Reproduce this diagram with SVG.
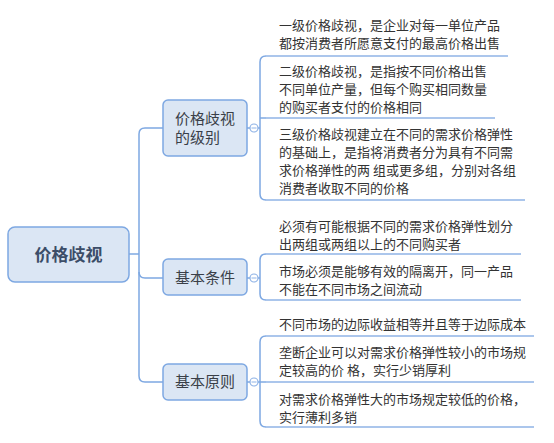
<svg xmlns="http://www.w3.org/2000/svg" width="554" height="443" viewBox="0 0 554 443">
<style>
.node{fill:#dbe6f4;stroke:#7ea8e2;stroke-width:1.5}
.ln{fill:none;stroke:#7ea8e2;stroke-width:1.5}
.ul{fill:none;stroke:#8fb3e6;stroke-width:1.5}
.t{font-family:"Noto Sans CJK SC","Noto Sans",sans-serif;font-size:13px;fill:#333}
.nt{font-family:"Noto Sans CJK SC","Noto Sans",sans-serif;font-size:15px;fill:#3a3f48}
.rt{font-family:"Noto Sans CJK SC","Noto Sans",sans-serif;font-size:17px;font-weight:bold;fill:#3b4d68}
.cc{fill:#fff;stroke:#8fb3e6;stroke-width:1.2}
</style>
<rect width="554" height="443" fill="#fff"/>
<g id="connectors">
<path class="ln" d="M129,254 H139"/>
<path class="ln" d="M163,128 H145 Q139,128 139,134 V376 Q139,382 145,382 H163"/>
<path class="ln" d="M139,272 Q139,278 145,278 H163"/>
<path class="ln" d="M247,128 H260"/>
<path class="ln" d="M247,278 H260"/>
<path class="ln" d="M247,382 H260"/>
<path class="ln" d="M266,56 Q260,56 260,62 V194 Q260,200 266,200"/>
<path class="ln" d="M260,118 H266"/>
<path class="ln" d="M266,254 Q260,254 260,260 V294 Q260,300 266,300"/>
<path class="ln" d="M266,336 Q260,336 260,342 V421 Q260,427 266,427"/>
<path class="ln" d="M260,382 H266"/>
</g>
<g id="root">
<rect class="node" x="8" y="227" width="121" height="55" rx="7"/>
<text class="rt" x="68.5" y="260.5" text-anchor="middle">价格歧视</text>
</g>
<g id="n1">
<rect class="node" x="163" y="100" width="84" height="56" rx="5"/>
<text class="nt" x="175" y="124">价格歧视</text>
<text class="nt" x="175" y="143">的级别</text>
<circle class="cc" cx="254" cy="128" r="4"/>
<path d="M251.5,128 H256.5" stroke="#8fb3e6" stroke-width="1"/>
</g>
<g id="n2">
<rect class="node" x="163" y="259" width="84" height="36" rx="5"/>
<text class="nt" x="205" y="283" text-anchor="middle">基本条件</text>
<circle class="cc" cx="254" cy="278" r="4"/>
<path d="M251.5,278 H256.5" stroke="#8fb3e6" stroke-width="1"/>
</g>
<g id="n3">
<rect class="node" x="163" y="364" width="84" height="36" rx="5"/>
<text class="nt" x="205" y="387" text-anchor="middle">基本原则</text>
<circle class="cc" cx="254" cy="382" r="4"/>
<path d="M251.5,382 H256.5" stroke="#8fb3e6" stroke-width="1"/>
</g>
<g id="c11">
<path class="ul" d="M266,56 H508"/>
<text class="t" x="279" y="30">一级价格歧视，是企业对每一单位产品</text>
<text class="t" x="279" y="48">都按消费者所愿意支付的最高价格出售</text>
</g>
<g id="c12">
<path class="ul" d="M266,118 H495"/>
<text class="t" x="279" y="76">二级价格歧视，是指按不同价格出售</text>
<text class="t" x="279" y="94">不同单位产量，但每个购买相同数量</text>
<text class="t" x="279" y="112">的购买者支付的价格相同</text>
</g>
<g id="c13">
<path class="ul" d="M266,200 H525"/>
<text class="t" x="279" y="139">三级价格歧视建立在不同的需求价格弹性</text>
<text class="t" x="279" y="157">的基础上，是指将消费者分为具有不同需</text>
<text class="t" x="279" y="175">求价格弹性的两 组或更多组，分别对各组</text>
<text class="t" x="279" y="193">消费者收取不同的价格</text>
</g>
<g id="c21">
<path class="ul" d="M266,254 H521"/>
<text class="t" x="279" y="230.5">必须有可能根据不同的需求价格弹性划分</text>
<text class="t" x="279" y="248.5">出两组或两组以上的不同购买者</text>
</g>
<g id="c22">
<path class="ul" d="M266,300 H521"/>
<text class="t" x="279" y="275.5">市场必须是能够有效的隔离开，同一产品</text>
<text class="t" x="279" y="293.5">不能在不同市场之间流动</text>
</g>
<g id="c31">
<path class="ul" d="M266,336 H534"/>
<text class="t" x="279" y="329">不同市场的边际收益相等并且等于边际成本</text>
</g>
<g id="c32">
<path class="ul" d="M266,382 H534"/>
<text class="t" x="279" y="357">垄断企业可以对需求价格弹性较小的市场规</text>
<text class="t" x="279" y="375">定较高的价 格，实行少销厚利</text>
</g>
<g id="c33">
<path class="ul" d="M266,427 H534"/>
<text class="t" x="279" y="403.5">对需求价格弹性大的市场规定较低的价格，</text>
<text class="t" x="279" y="421.5">实行薄利多销</text>
</g>
</svg>
